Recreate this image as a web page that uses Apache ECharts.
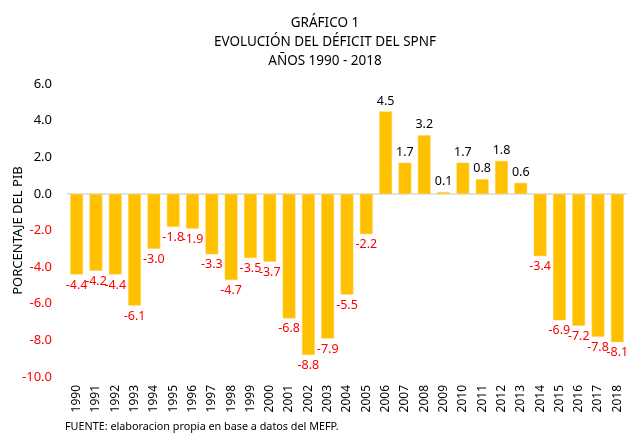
<!DOCTYPE html>
<html>
<head>
<meta charset="utf-8">
<script src="https://cdn.jsdelivr.net/npm/echarts@6/dist/echarts.min.js"></script>
<style>
  html, body { margin: 0; padding: 0; background: #fff; }
  #grafico { width: 631px; height: 434px; }
</style>
</head>
<body>
<div id="grafico"></div>
<script>
// datos del grafico
var anios = ['1990', '1991', '1992', '1993', '1994', '1995', '1996', '1997', '1998', '1999',
    '2000', '2001', '2002', '2003', '2004', '2005', '2006', '2007', '2008', '2009',
    '2010', '2011', '2012', '2013', '2014', '2015', '2016', '2017', '2018']
var deficit = [-4.4, -4.2, -4.4, -6.1, -3.0, -1.8, -1.9, -3.3, -4.7, -3.5,
    -3.7, -6.8, -8.8, -7.9, -5.5, -2.2, 4.5, 1.7, 3.2, 0.1,
    1.7, 0.8, 1.8, 0.6, -3.4, -6.9, -7.2, -7.8, -8.1]
var titulos = ['GRÁFICO 1', 'EVOLUCIÓN DEL DÉFICIT DEL SPNF', 'AÑOS 1990 - 2018']
var fuente = 'FUENTE: elaboracion propia en base a datos del MEFP.'

var fuenteTxt = 'Noto Sans'

;(function () {
    var myChart = echarts.init(document.getElementById('grafico'))

    // etiquetas: negativas en rojo, positivas en negro
    var datos = deficit.map(function (v) {
        return {
            value: v,
            label: {
                position: v < 0 ? 'bottom' : 'top',
                color: v < 0 ? '#ff0000' : '#000'
            }
        }
    })

    var option = {
        animation: false,
        textStyle: { fontFamily: fuenteTxt },
        title: {
            text: titulos.join('\n'),
            left: 320,
            textAlign: 'center',
            top: 9,
            textStyle: {
                fontFamily: fuenteTxt,
                fontSize: 13.5,
                fontWeight: 'normal',
                color: '#000',
                lineHeight: 19
            }
        },
        graphic: [{
            type: 'text',
            left: 65,
            top: 421,
            style: { text: fuente, fontFamily: fuenteTxt, fontSize: 10.8, fill: '#000' }
        }],
        grid: { left: 67, top: 84, width: 560, height: 293, outerBoundsMode: 'none' },
        xAxis: {
            type: 'category',
            data: anios,
            axisLine: { show: false, onZero: false },
            axisTick: { show: false },
            axisLabel: {
                rotate: 90,
                margin: 8,
                fontSize: 12,
                color: '#000',
                interval: 0
            }
        },
        yAxis: {
            type: 'value',
            name: 'PORCENTAJE DEL PIB',
            nameLocation: 'middle',
            nameGap: 42,
            nameTextStyle: { fontSize: 13, color: '#000' },
            nameMoveOverlap: false,
            min: -10,
            max: 6,
            interval: 2,
            splitLine: { show: false },
            axisLine: { show: false },
            axisTick: { show: false },
            axisLabel: {
                margin: 15,
                fontSize: 13,
                formatter: function (v) { return v.toFixed(1) },
                color: function (v) { return Number(v) < 0 ? '#ff0000' : '#000' }
            }
        },
        series: [{
            type: 'bar',
            data: datos,
            barWidth: '66%',
            itemStyle: { color: '#ffc000', borderColor: '#ffd24d', borderWidth: 0.5 },
            label: {
                show: true,
                fontSize: 12.5,
                distance: 4,
                formatter: function (p) { return p.value.toFixed(1) }
            },
            markLine: {
                silent: true,
                symbol: 'none',
                label: { show: false },
                lineStyle: { color: '#d9d9d9', type: 'solid', width: 1.5 },
                data: [{ yAxis: 0 }],
                z: 1
            }
        }]
    }
    myChart.setOption(option)
    window.addEventListener('resize', function () {
        myChart.resize()
    })
}())
</script>
</body>
</html>
